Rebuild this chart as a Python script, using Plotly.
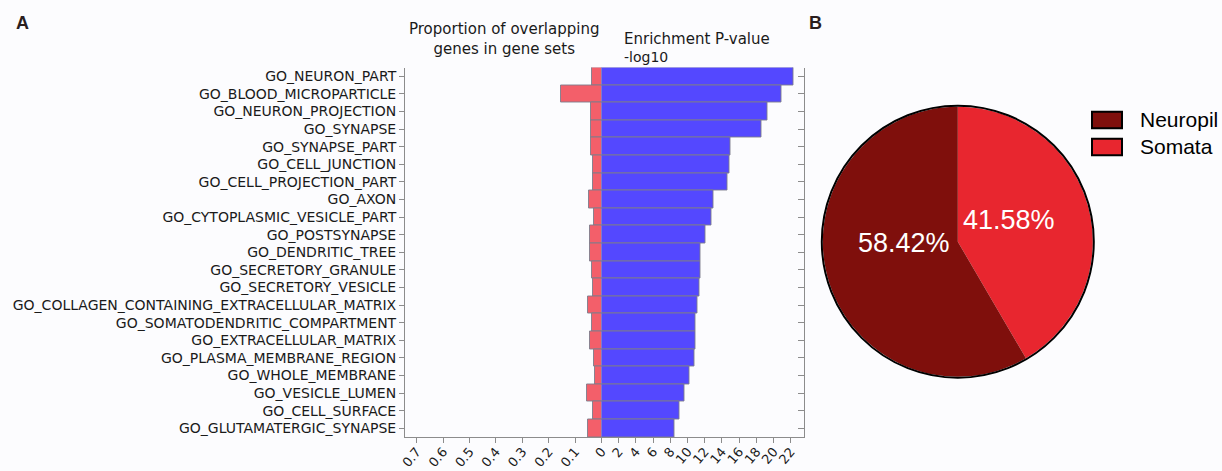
import plotly.graph_objects as go

# ---------------- data ----------------
categories = [
    "GO_NEURON_PART", "GO_BLOOD_MICROPARTICLE", "GO_NEURON_PROJECTION", "GO_SYNAPSE",
    "GO_SYNAPSE_PART", "GO_CELL_JUNCTION", "GO_CELL_PROJECTION_PART", "GO_AXON",
    "GO_CYTOPLASMIC_VESICLE_PART", "GO_POSTSYNAPSE", "GO_DENDRITIC_TREE",
    "GO_SECRETORY_GRANULE", "GO_SECRETORY_VESICLE",
    "GO_COLLAGEN_CONTAINING_EXTRACELLULAR_MATRIX", "GO_SOMATODENDRITIC_COMPARTMENT",
    "GO_EXTRACELLULAR_MATRIX", "GO_PLASMA_MEMBRANE_REGION", "GO_WHOLE_MEMBRANE",
    "GO_VESICLE_LUMEN", "GO_CELL_SURFACE", "GO_GLUTAMATERGIC_SYNAPSE",
]
proportion = [0.035, 0.154, 0.038, 0.040, 0.040, 0.034, 0.031, 0.047, 0.029, 0.044,
              0.044, 0.037, 0.033, 0.053, 0.037, 0.045, 0.029, 0.025, 0.056, 0.031, 0.050]
neg_log10_p = [22.28, 20.9, 19.34, 18.6, 14.95, 14.88, 14.69, 13.06, 12.83, 12.05,
               11.55, 11.55, 11.35, 11.16, 10.97, 10.97, 10.81, 10.27, 9.69, 9.03, 8.45]
prop_ticks = [0.1, 0.2, 0.3, 0.4, 0.5, 0.6, 0.7]
p_ticks = [0, 2, 4, 6, 8, 10, 12, 14, 16, 18, 20, 22]

pie_labels = ["Neuropil", "Somata"]
pie_values = [58.42, 41.58]

# ---------------- styles ----------------
W, H = 1222, 471
def fx(px): return px / W
def fy(py): return 1 - py / H

RED = "#f35f6a"
BLUE = "#5448ff"
PIE_COLORS = ["#7f0f0c", "#e8262f"]
BG = "#fcfcfe"
AXC = "#8c8c8c"
TXT = "#1a1a1a"
FONT = "DejaVu Sans"

x_split = 601.5
plot_top, plot_bot = 67.5, 437.0
left_px, right_px = 405.0, 804.3
px_per_prop = 264.0
px_per_p = 8.6

fig = go.Figure()

fig.add_trace(go.Bar(
    y=categories, x=proportion, orientation="h", xaxis="x", yaxis="y",
    marker=dict(color=RED, line=dict(color="rgba(125,125,140,0.9)", width=1)),
    showlegend=False, hoverinfo="x+y",
))
fig.add_trace(go.Bar(
    y=categories, x=neg_log10_p, orientation="h", xaxis="x2", yaxis="y2",
    marker=dict(color=BLUE, line=dict(color="rgba(125,125,140,0.9)", width=1)),
    showlegend=False, hoverinfo="x+y",
))

# pie drawn with Somata first, clockwise from 12 o'clock
fig.add_trace(go.Pie(
    labels=pie_labels[::-1], values=pie_values[::-1], sort=False, direction="clockwise",
    rotation=0, marker=dict(colors=PIE_COLORS[::-1], line=dict(width=0)),
    textinfo="none", showlegend=False, hoverinfo="label+percent",
    domain=dict(x=[fx(957.8 - 135), fx(957.8 + 135)], y=[fy(241.7 + 135), fy(241.7 - 135)]),
))

ydom = [fy(plot_bot), fy(plot_top)]
tickfont = dict(family=FONT, size=14, color=TXT)
xtickfont = dict(family=FONT, size=13, color=TXT)

fig.update_layout(
    width=W, height=H, margin=dict(l=0, r=0, t=0, b=0),
    paper_bgcolor=BG, plot_bgcolor=BG, bargap=0,
    xaxis=dict(
        domain=[fx(left_px), fx(x_split)], anchor="y",
        range=[(x_split - left_px) / px_per_prop, 0],
        tickmode="array", tickvals=prop_ticks, ticktext=[str(v) for v in prop_ticks],
        ticks="outside", ticklen=5, tickcolor=AXC, tickangle=-50, ticklabelstandoff=-4,
        showline=True, linecolor=AXC, linewidth=1, showgrid=False, zeroline=False,
        tickfont=xtickfont, automargin=False,
    ),
    xaxis2=dict(
        domain=[fx(x_split), fx(right_px)], anchor="y2",
        range=[0, (right_px - x_split) / px_per_p],
        tickmode="array", tickvals=p_ticks, ticktext=[str(v) for v in p_ticks],
        ticks="outside", ticklen=5, tickcolor=AXC, tickangle=-50, ticklabelstandoff=-4,
        showline=True, linecolor=AXC, linewidth=1, showgrid=False, zeroline=False,
        tickfont=xtickfont, automargin=False,
    ),
    yaxis=dict(
        domain=ydom, anchor="x", type="category",
        categoryorder="array", categoryarray=categories, autorange="reversed",
        ticks="outside", ticklen=5, tickcolor=AXC,
        showline=True, linecolor=AXC, linewidth=1, showgrid=False, zeroline=False,
        tickfont=tickfont, automargin=False,
    ),
    yaxis2=dict(
        domain=ydom, anchor="x2", side="right", matches="y", type="category",
        categoryorder="array", categoryarray=categories,
        ticks="inside", ticklen=6, tickcolor=AXC, showticklabels=False,
        showline=True, linecolor=AXC, linewidth=1, showgrid=False, zeroline=False,
        automargin=False,
    ),
)

annotations = [
    dict(text="<b>A</b>", x=fx(22), y=fy(23), font=dict(family="Liberation Sans", size=18, color="#2a1e1e")),
    dict(text="<b>B</b>", x=fx(815), y=fy(23), font=dict(family="Liberation Sans", size=18, color="#2a1e1e")),
    dict(text="Proportion of overlapping<br>genes in gene sets", x=fx(504), y=fy(39),
         font=dict(family=FONT, size=15, color=TXT)),
    dict(text="Enrichment P-value", x=fx(622), y=fy(39.5), xanchor="left",
         font=dict(family=FONT, size=15, color=TXT)),
    dict(text="-log10", x=fx(622), y=fy(57), xanchor="left",
         font=dict(family=FONT, size=14, color=TXT)),
]
# pie percentage labels
pct_pos = [(904.3, 242.5), (1009.0, 220.0)]
total = sum(pie_values)
for v, (px, py) in zip(pie_values, pct_pos):
    annotations.append(dict(text=f"{100 * v / total:.2f}%", x=fx(px), y=fy(py),
                            font=dict(family="Liberation Sans", size=27, color="white")))
# custom legend
leg_rows = [120.0, 147.0]
shapes = []
for lab, col, yc in zip(pie_labels, PIE_COLORS, leg_rows):
    shapes.append(dict(type="rect", xref="paper", yref="paper",
                       x0=fx(1092), x1=fx(1122), y0=fy(yc + 8.3), y1=fy(yc - 8.3),
                       fillcolor=col, line=dict(color="black", width=2)))
    annotations.append(dict(text=lab, x=fx(1138), y=fy(yc), xanchor="left",
                            font=dict(family="Liberation Sans", size=21, color="black")))
# pie outline
shapes.append(dict(type="circle", xref="paper", yref="paper",
                   x0=fx(957.8 - 136), x1=fx(957.8 + 136), y0=fy(241.7 + 136), y1=fy(241.7 - 136),
                   line=dict(color="black", width=2), layer="above"))

for a in annotations:
    a.update(xref="paper", yref="paper", showarrow=False)
    a.setdefault("xanchor", "center")
    a.setdefault("yanchor", "middle")

fig.update_layout(annotations=annotations, shapes=shapes)
fig.write_html("out.html", config={"displayModeBar": False},
               post_script="document.body.style.margin='0';document.body.style.overflow='hidden';")
